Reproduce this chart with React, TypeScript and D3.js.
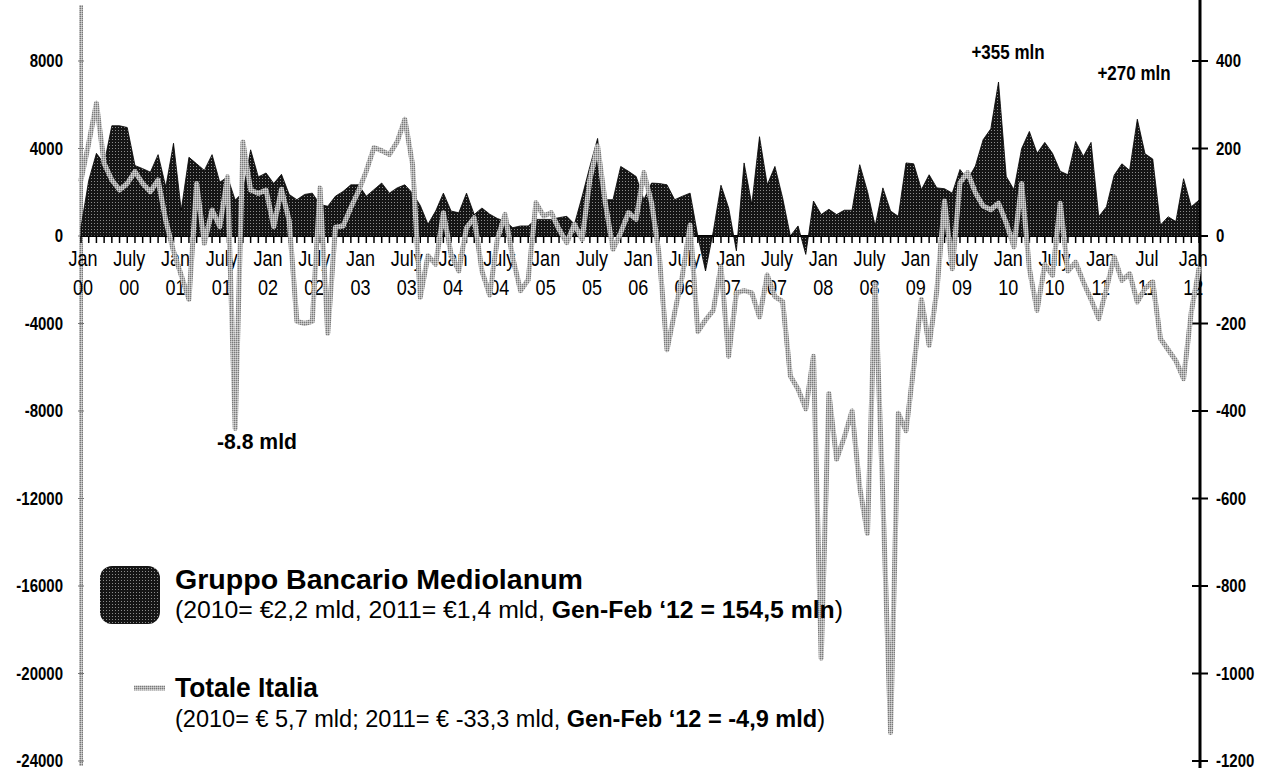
import React from "react";
import * as d3 from "d3";

// Monthly data, Jan 2000 .. Feb 2012
// Gruppo Bancario Mediolanum net inflows (mln €, right axis)
const mediolanum: number[] = [
  20, 127, 189, 165, 252, 252, 248, 161, 154, 146, 186, 112,
  212, 59, 180, 165, 150, 186, 123, 135, 82, 100, 197, 135,
  144, 120, 141, 95, 83, 95, 98, 72, 68, 91, 102, 117,
  117, 91, 106, 121, 98, 110, 117, 98, 70, 27, 57, 98,
  57, 53, 98, 49, 64, 50, 40, 34, 19, 23, 23, 38,
  38, 38, 42, 45, 27, 91, 159, 223, 83, 83, 159, 148,
  136, 83, 121, 120, 117, 83, 91, 98, 0, -80, 10, 116,
  64, -34, 167, 72, 227, 117, 159, 87, 0, 23, -42, 80,
  49, 61, 49, 59, 59, 163, 102, 23, 110, 57, 45, 167,
  165, 106, 140, 110, 108, 98, 152, 129, 160, 220, 245, 352,
  136, 106, 200, 239, 189, 214, 189, 148, 140, 216, 182, 214,
  44, 67, 139, 165, 150, 267, 188, 176, 25, 44, 33, 131,
  67, 82,
];

// Totale Italia net inflows (mln €, left axis)
const totaleItalia: number[] = [
  2560, 4237, 6066, 3322, 2560, 2100, 2400, 2940, 2400, 2027, 2560, 700,
  -700, -1800, -2900, 2400, -335, 1189, 427, 2713, -8800, 4300, 2100, 1950,
  2100, 427, 2134, 700, -3900, -4000, -3900, 2200, -4450, 400, 457, 1300,
  2057, 2970, 4040, 3900, 3730, 4300, 5330, 3277, -2800, -900, -1300, 1067,
  -838, -1600, 381, 838, -1600, -2700, -150, 990, -1000, -2500, -2000, 1524,
  914, 1067, 305, -305, 533, -152, 2590, 4115, 1524, -610, 152, 1067,
  762, 2900, 1524, -900, -5200, -3500, -1800, 500, -4374, -3840, -3400, -1400,
  -5500, -2600, -2500, -2600, -3700, -1783, -2774, -3000, -6400, -7000, -7900, -5500,
  -19300, -7200, -10200, -9200, -8000, -11500, -13600, -2200, -12000, -22700, -8100, -8900,
  -6000, -2900, -5000, -2500, 1600, -1500, 2438, 2900, 1981, 1371, 1200, 1500,
  600, -500, 2400, -1500, -3400, -1300, -1800, 1500, -1600, -1200, -2100, -2900,
  -3780, -2400, -960, -2027, -1722, -3017, -2400, -2100, -4694, -5200, -5700, -6523,
  -3475, -1494,
];

const xTickMonths: string[] = [
  "Jan", "July", "Jan", "July", "Jan", "July", "Jan", "July", "Jan", "July",
  "Jan", "July", "Jan", "July", "Jan", "July", "Jan", "July", "Jan", "July",
  "Jan", "July", "Jan", "Jul", "Jan",
];
const xTickYears: string[] = [
  "00", "00", "01", "01", "02", "02", "03", "03", "04", "04",
  "05", "05", "06", "06", "07", "07", "08", "08", "09", "09",
  "10", "10", "11", "11", "12",
];
const leftTicks: number[] = [8000, 4000, 0, -4000, -8000, -12000, -16000, -20000, -24000];
const rightTicks: number[] = [400, 200, 0, -200, -400, -600, -800, -1000, -1200];

const FONT = "'Liberation Sans', Arial, sans-serif";

function SText(props: {
  x: number; y: number; size: number; bold?: boolean; anchor?: string; sy?: number;
  family?: string; len?: number; children: React.ReactNode;
}) {
  const { x, y, size, bold, anchor, sy = 1.15, family = FONT, len, children } = props;
  return (
    <g transform={`translate(${x},${y}) scale(1,${sy})`}>
      <text
        x={0}
        y={0}
        fontFamily={family}
        fontSize={size}
        fontWeight={bold ? "bold" : "normal"}
        textAnchor={anchor || "start"}
        fill="#000"
        {...(len ? { textLength: len, lengthAdjust: "spacingAndGlyphs" } : {})}
      >
        {children}
      </text>
    </g>
  );
}

export default function App() {
  const W = 1271;
  const H = 773;
  const n = mediolanum.length;
  const x = d3.scaleLinear().domain([0, n - 1]).range([81, 1199]);
  const yL = d3.scaleLinear().domain([-24000, 8000]).range([761, 61]);
  const yR = d3.scaleLinear().domain([-1200, 400]).range([761, 61]);
  const y0 = yR(0);

  const areaGen = d3
    .area<number>()
    .x((_, i) => x(i))
    .y0(y0)
    .y1((d) => yR(d));
  const lineGen = d3
    .line<number>()
    .x((_, i) => x(i))
    .y((d) => yL(d));

  const monthTicks = d3.range(n);
  const labelIdx = d3.range(0, 145, 6);

  return (
    <svg
      width={W}
      height={H}
      style={{ position: "absolute", left: 0, top: 0, background: "#fff" }}
    >
      <defs>
        <pattern id="darkPat" width="3" height="3" patternUnits="userSpaceOnUse">
          <rect width="3" height="3" fill="#151515" />
          <rect x="1" y="1" width="1" height="1" fill="#8c8c8c" />
        </pattern>
        <pattern id="greyPat" width="2" height="2" patternUnits="userSpaceOnUse">
          <rect width="2" height="2" fill="#b4b4b4" />
          <rect x="0" y="0" width="1" height="1" fill="#7a7a7a" />
          <rect x="1" y="1" width="1" height="1" fill="#d6d6d6" />
        </pattern>
      </defs>

      {/* left axis (grey) */}
      <line x1={81} x2={81} y1={5} y2={766} stroke="url(#greyPat)" strokeWidth={4} />
      {leftTicks.map((t) => (
        <g key={"lt" + t}>
          <line x1={78} x2={84} y1={yL(t)} y2={yL(t)} stroke="#777" strokeWidth={1} />
          <SText x={63} y={yL(t) + 6} size={15} bold anchor="end" sy={1.2}>
            {String(t)}
          </SText>
        </g>
      ))}

      {/* right axis */}
      <line x1={1200} x2={1200} y1={0} y2={768} stroke="#000" strokeWidth={3} />
      {rightTicks.map((t) => (
        <g key={"rt" + t}>
          <line x1={1192} x2={1208} y1={yR(t)} y2={yR(t)} stroke="#000" strokeWidth={2} />
          <SText x={1216} y={yR(t) + 6} size={15} bold sy={1.2}>
            {String(t)}
          </SText>
        </g>
      ))}

      {/* x axis labels */}
      {labelIdx.map((i, k) => (
        <g key={"xl" + i}>
          <SText x={x(i) + 2} y={266} size={18} anchor="middle" sy={1.2}>
            {xTickMonths[k]}
          </SText>
          <SText x={x(i) + 2} y={295} size={18} anchor="middle" sy={1.2}>
            {xTickYears[k]}
          </SText>
        </g>
      ))}

      {/* x axis baseline and month ticks */}
      <line x1={81} x2={1200} y1={y0} y2={y0} stroke="#000" strokeWidth={2} />
      {monthTicks.map((i) => (
        <line key={"mt" + i} x1={x(i)} x2={x(i)} y1={y0} y2={y0 + 7} stroke="#000" strokeWidth={1.5} />
      ))}

      {/* Mediolanum area */}
      <path d={areaGen(mediolanum) || ""} fill="url(#darkPat)" stroke="#000" strokeWidth={0.8} />

      {/* Totale Italia line */}
      <path
        d={lineGen(totaleItalia) || ""}
        fill="none"
        stroke="url(#greyPat)"
        strokeWidth={5}
        strokeLinejoin="round"
        strokeLinecap="round"
      />

      {/* annotations */}
      <SText x={1008} y={59} size={17} bold anchor="middle">+355 mln</SText>
      <SText x={1134} y={80} size={17} bold anchor="middle">+270 mln</SText>
      <SText x={257} y={449} size={19} bold anchor="middle" len={80}>-8.8 mld</SText>

      {/* legend */}
      <rect x={100} y={566} width={60} height={58} rx={12} fill="url(#darkPat)" />
      <SText x={175} y={589} size={24} bold sy={1.12} len={408}>
        Gruppo Bancario Mediolanum
      </SText>
      <SText x={175} y={618} size={22} sy={1.12} len={668}>
        <tspan>(2010= €2,2 mld,  2011= €1,4 mld, </tspan>
        <tspan fontWeight="bold">Gen-Feb ‘12 = 154,5 mln</tspan>
        <tspan>)</tspan>
      </SText>
      <line x1={134} x2={165} y1={688} y2={688} stroke="url(#greyPat)" strokeWidth={5} />
      <SText x={175} y={697} size={24} bold sy={1.12} len={143}>
        Totale Italia
      </SText>
      <SText x={175} y={727} size={22} sy={1.12} len={650}>
        <tspan>(2010= € 5,7 mld;  2011= € -33,3 mld, </tspan>
        <tspan fontWeight="bold">Gen-Feb ‘12 = -4,9 mld</tspan>
        <tspan>)</tspan>
      </SText>
    </svg>
  );
}
